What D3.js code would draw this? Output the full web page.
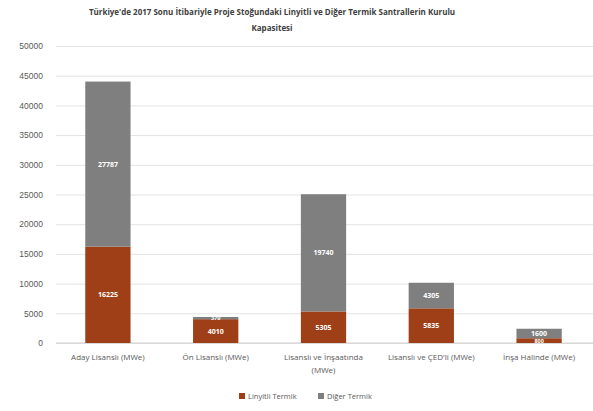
<!DOCTYPE html>
<html>
<head>
<meta charset="utf-8">
<script src="https://cdn.jsdelivr.net/npm/d3@7"></script>
<style>
  body { margin: 0; background: #fff; }
  svg { font-family: "Open Sans", "Liberation Sans", sans-serif; }
</style>
</head>
<body>
<svg id="chart" width="593" height="411"></svg>
<script>
// Installed capacity (MWe) by project stage
const categories = [
  ["Aday Lisanslı (MWe)"],
  ["Ön Lisanslı (MWe)"],
  ["Lisanslı ve İnşaatında", "(MWe)"],
  ["Lisanslı ve ÇED'li (MWe)"],
  ["İnşa Halinde (MWe)"]
];
const linyitli = [16225, 4010, 5305, 5835, 800];
const diger = [27787, 370, 19740, 4305, 1600];
const seriesNames = ["Linyitli Termik", "Diğer Termik"];
const yTicks = [0, 5000, 10000, 15000, 20000, 25000, 30000, 35000, 40000, 45000, 50000];
const titleLines = [
  "Türkiye'de 2017 Sonu İtibariyle Proje Stoğundaki Linyitli ve Diğer Termik Santrallerin Kurulu",
  "Kapasitesi"
];

const colors = ["#9e3f17", "#7f7f7f"];
const svg = d3.select("#chart");
const plot = { left: 56, right: 593, top: 46, bottom: 343 };

const keys = categories.map((c, i) => i);
const rows = keys.map(i => ({ idx: i, linyitli: linyitli[i], diger: diger[i] }));
const stack = d3.stack().keys(["linyitli", "diger"])(rows);

const x = d3.scaleBand().domain(keys).range([54, 593]).paddingInner(0.58).paddingOuter(0.29);
const y = d3.scaleLinear().domain([0, 50000]).range([plot.bottom, plot.top]);

// Gridlines and y labels
const yAxis = d3.axisLeft(y).tickValues(yTicks).tickSize(-(plot.right - plot.left)).tickFormat(d3.format("d"));
const gy = svg.append("g").attr("transform", `translate(${plot.left},0)`).call(yAxis);
gy.select(".domain").remove();
gy.selectAll(".tick line").attr("stroke", "#e3e3e3").attr("stroke-width", 1);
gy.selectAll(".tick text").attr("fill", "#595959").attr("font-size", 8.5).attr("x", -13);

// Baseline
svg.append("line").attr("x1", plot.left).attr("x2", plot.right)
  .attr("y1", y(0)).attr("y2", y(0)).attr("stroke", "#d0d0d0");

// Stacked bars with value labels; thin segments get smaller labels
stack.forEach((layer, li) => {
  const g = svg.append("g").attr("fill", colors[li]);
  g.selectAll("rect").data(layer).join("rect")
    .attr("x", d => x(d.data.idx))
    .attr("width", x.bandwidth())
    .attr("y", d => y(d[1]))
    .attr("height", d => y(d[0]) - y(d[1]));
  const fs = d => Math.max(5.5, Math.min(7, y(d[0]) - y(d[1]) + 0.5));
  svg.append("g").selectAll("text").data(layer).join("text")
    .attr("x", d => x(d.data.idx) + x.bandwidth() / 2)
    .attr("y", d => (y(d[0]) + y(d[1])) / 2 + fs(d) * 0.36)
    .attr("text-anchor", "middle")
    .attr("fill", "#fff")
    .attr("font-size", fs)
    .attr("font-weight", "bold")
    .text(d => d[1] - d[0]);
});

// Category labels
const gx = svg.append("g");
categories.forEach((lines, i) => {
  lines.forEach((t, k) => {
    gx.append("text")
      .attr("x", x(i) + x.bandwidth() / 2)
      .attr("y", 360 + k * 13)
      .attr("text-anchor", "middle")
      .attr("fill", "#595959")
      .attr("font-size", 8)
      .text(t);
  });
});

// Title
titleLines.forEach((t, k) => {
  svg.append("text")
    .attr("x", 272).attr("y", 15 + k * 16)
    .attr("text-anchor", "middle")
    .attr("fill", "#404040")
    .attr("font-size", 8)
    .attr("font-weight", "bold")
    .text(t);
});

// Legend
const legendX = [239, 318];
seriesNames.forEach((n, i) => {
  svg.append("rect").attr("x", legendX[i]).attr("y", 393).attr("width", 6).attr("height", 6).attr("fill", colors[i]);
  svg.append("text").attr("x", legendX[i] + 9).attr("y", 399)
    .attr("fill", "#595959").attr("font-size", 7.5).text(n);
});
</script>
</body>
</html>
